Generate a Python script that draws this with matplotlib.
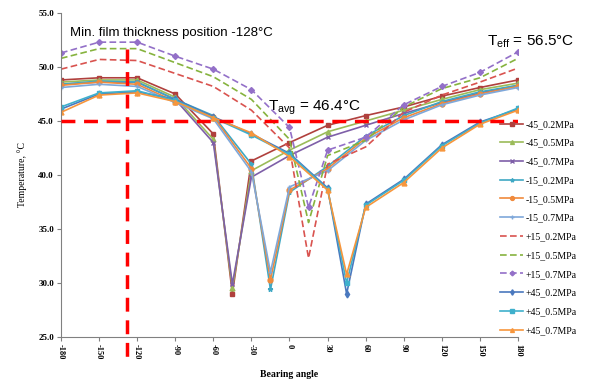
# -*- coding: utf-8 -*-
"""
bearing temperature vs bearing angle, 12 load/groove cases
"""
import numpy as np
import matplotlib
matplotlib.use('Agg')
import matplotlib.pyplot as plt

plt.rcParams['font.family'] = ['Liberation Sans', 'DejaVu Sans']
plt.rcParams['mathtext.default'] = 'regular'

# ---- data ----
x_m45 = [-180, -150, -120, -90, -60, -45, -30, 0, 30, 60, 90, 120, 150, 180]
x_m15 = [-180, -150, -120, -90, -60, -30, -15, 0, 30, 60, 90, 120, 150, 180]
x_p15 = [-180, -150, -120, -90, -60, -30, 0, 15, 30, 60, 90, 120, 150, 180]
x_p45 = [-180, -150, -120, -90, -60, -30, 0, 30, 45, 60, 90, 120, 150, 180]

m45_02 = [48.8, 49.0, 49.0, 47.5, 43.8, 29.0, 41.3, 43.0, 44.6, 45.5, 46.3, 47.3, 48.1, 48.8]
m45_05 = [48.6, 48.8, 48.8, 47.2, 43.3, 29.5, 40.4, 42.3, 44.0, 45.0, 46.0, 47.0, 47.9, 48.5]
m45_07 = [48.4, 48.6, 48.6, 47.0, 43.0, 29.9, 39.8, 41.8, 43.5, 44.6, 45.7, 46.7, 47.6, 48.3]

m15_02 = [48.4, 48.7, 48.6, 47.0, 45.5, 41.0, 29.4, 38.4, 40.8, 43.6, 45.5, 46.8, 47.7, 48.3]
m15_05 = [48.3, 48.6, 48.4, 46.8, 45.4, 40.6, 30.3, 38.6, 40.6, 43.4, 45.3, 46.6, 47.5, 48.2]
m15_07 = [48.1, 48.4, 48.2, 46.7, 45.2, 40.3, 31.0, 38.9, 40.4, 43.2, 45.1, 46.5, 47.4, 48.1]

p15_02 = [49.8, 50.7, 50.6, 49.4, 48.2, 46.0, 42.5, 32.3, 41.0, 42.6, 45.8, 47.4, 48.6, 49.9]
p15_05 = [50.8, 51.7, 51.7, 50.4, 49.1, 47.0, 43.3, 35.6, 41.8, 43.2, 46.3, 48.0, 49.0, 50.8]
p15_07 = [51.3, 52.3, 52.3, 51.0, 49.8, 47.9, 44.4, 37.0, 42.3, 43.5, 46.5, 48.2, 49.5, 51.4]

p45_02 = [46.1, 47.5, 47.7, 47.0, 45.4, 43.8, 42.0, 38.8, 29.0, 37.3, 39.6, 42.8, 44.9, 46.1]
p45_05 = [46.3, 47.6, 47.8, 46.9, 45.3, 43.7, 41.9, 38.7, 30.0, 37.2, 39.5, 42.7, 44.8, 46.2]
p45_07 = [45.8, 47.4, 47.6, 46.8, 45.3, 43.9, 41.7, 38.6, 30.8, 37.0, 39.3, 42.5, 44.7, 46.0]

T_line = 45.0
min_film_angle = -128

x_ticks = [-180, -150, -120, -90, -60, -30, 0, 30, 60, 90, 120, 150, 180]
y_ticks = [25, 30, 35, 40, 45, 50, 55]

# (label, x, y, colour, marker, linestyle)
series = [
    ('-45_0.2MPa', x_m45, m45_02, '#B0403D', 's', '-'),
    ('-45_0.5MPa', x_m45, m45_05, '#9BBB59', '^', '-'),
    ('-45_0.7MPa', x_m45, m45_07, '#7E5FA8', 'x', '-'),
    ('-15_0.2MPa', x_m15, m15_02, '#3FA8C4', '*', '-'),
    ('-15_0.5MPa', x_m15, m15_05, '#F08A3C', 'o', '-'),
    ('-15_0.7MPa', x_m15, m15_07, '#7FA8DA', '+', '-'),
    ('+15_0.2MPa', x_p15, p15_02, '#D9534F', None, '--'),
    ('+15_0.5MPa', x_p15, p15_05, '#86B33E', None, '--'),
    ('+15_0.7MPa', x_p15, p15_07, '#9370C8', 'D', '--'),
    ('+45_0.2MPa', x_p45, p45_02, '#4A78BE', 'd', '-'),
    ('+45_0.5MPa', x_p45, p45_05, '#3FB0CC', 's', '-'),
    ('+45_0.7MPa', x_p45, p45_07, '#F7963C', '^', '-'),
]

fig = plt.figure(figsize=(6.05, 3.87), dpi=100)
ax = fig.add_axes([61 / 605, 1 - 337 / 387, 457 / 605, 324 / 387])

for lab, xs, ys, c, mk, ls in series:
    ax.plot(xs, ys, linestyle=ls, color=c, marker=mk,
            markersize=3 if mk == 'D' else 3.5,
            linewidth=1.2, label=lab, dashes=(4, 2) if ls == '--' else (None, None))

# 平均温度线 / 最小油膜位置
ax.axhline(T_line, color='#FF0000', linewidth=2.5, linestyle=(0, (4, 2.5)), zorder=5)
ax.plot([min_film_angle, min_film_angle], [51.7, 22.6], color='#FF0000',
        linewidth=2.5, linestyle=(0, (4, 2.5)), clip_on=False, zorder=5)

ax.set_xlim(-180, 180)
ax.set_ylim(25, 55)
ax.set_xticks(x_ticks)
ax.set_xticklabels([str(v) for v in x_ticks], rotation=-90,
                   fontsize=6, family='Liberation Serif', fontweight='bold')
ax.set_yticks(y_ticks)
ax.set_yticklabels([f'{v:.1f}' for v in y_ticks], fontsize=6.5,
                   family='Liberation Serif', fontweight='bold')
ax.tick_params(axis='both', length=3, width=0.8, color='#808080', pad=2)
for s in ('top', 'right'):
    ax.spines[s].set_visible(False)
for s in ('left', 'bottom'):
    ax.spines[s].set_color('#808080')

ax.set_xlabel('Bearing angle', fontsize=7, family='Liberation Serif',
              fontweight='bold', labelpad=8)
ax.set_ylabel('Temperature, °C', fontsize=7, family='Liberation Serif', labelpad=8)

fig.text(70 / 605, 1 - 33 / 387, 'Min. film thickness position -128°C',
         fontsize=9.5, va='center', ha='left')
fig.text(268 / 605, 1 - 108 / 387, 'T$_{avg}$ = 46.4°C',
         fontsize=11, va='center', ha='left')
fig.text(487 / 605, 1 - 42 / 387, 'T$_{eff}$ = 56.5°C',
         fontsize=11, va='center', ha='left')

fig.legend(loc='upper left', bbox_to_anchor=(500 / 605, 1 - 120 / 387),
           frameon=False, prop={'family': 'Liberation Serif', 'size': 7},
           labelspacing=1.0, handlelength=2.4, handletextpad=0.2,
           borderaxespad=0, borderpad=0, markerscale=0.8)

fig.savefig('out.png', dpi=100)
